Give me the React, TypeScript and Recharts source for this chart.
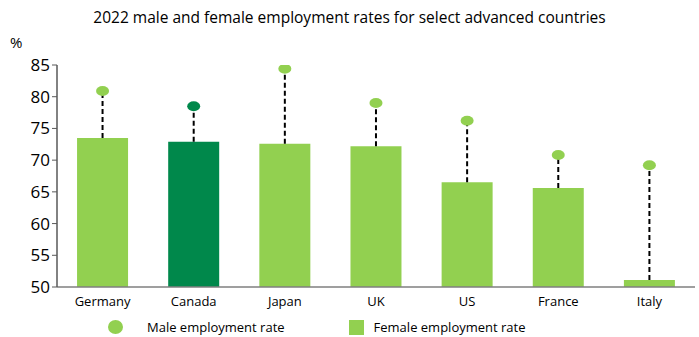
import { ComposedChart, Bar, Cell, XAxis, YAxis } from "recharts";

const countries = ["Germany", "Canada", "Japan", "UK", "US", "France", "Italy"];
const femaleRate = [73.5, 72.9, 72.6, 72.2, 66.5, 65.6, 51.1];
const maleRate = [80.9, 78.5, 84.4, 79.0, 76.2, 70.8, 69.2];
const yTicks = [50, 55, 60, 65, 70, 75, 80, 85];

const LIGHT = "#92d050";
const DARK = "#00884b";
const FONT = "'Open Sans', 'Noto Sans', sans-serif";

const data = countries.map((country, i) => ({
  country,
  female: femaleRate[i],
  male: maleRate[i],
}));

const colorFor = (country: string) => (country === "Canada" ? DARK : LIGHT);

// range bar [female, male]: draws the dashed stem and the male dot on top
const Stem = (props: any) => {
  const { x, y, width, height, payload } = props;
  const cx = x + width / 2;
  return (
    <g>
      <line
        x1={cx}
        x2={cx}
        y1={y + height}
        y2={y}
        stroke="#000"
        strokeWidth={2}
        strokeDasharray="5 3"
      />
      <ellipse cx={cx} cy={y} rx={6.5} ry={5} fill={colorFor(payload.country)} />
    </g>
  );
};

export default function App() {
  return (
    <div style={{ position: "absolute", left: 0, top: 0, width: 699, height: 337, fontFamily: FONT, background: "#fff" }}>
      <div style={{ position: "absolute", top: 6, left: 0, width: 699, textAlign: "center", fontSize: 15.5, color: "#000" }}>
        2022 male and female employment rates for select advanced countries
      </div>
      <div style={{ position: "absolute", top: 32, left: 10, fontSize: 15, color: "#000" }}>%</div>
      <ComposedChart
        width={699}
        height={337}
        data={data}
        margin={{ top: 65, right: 4, left: 0, bottom: 20 }}
        barCategoryGap="22%"
      >
        <XAxis
          dataKey="country"
          height={30}
          tickLine={false}
          axisLine={{ stroke: "#7f7f7f", strokeWidth: 1.5 }}
          tick={{ fill: "#000", fontSize: 13, fontFamily: FONT }}
          interval={0}
          tickMargin={4}
        />
        <XAxis xAxisId="r" dataKey="country" hide />
        <YAxis
          width={57}
          domain={[50, 85]}
          ticks={yTicks}
          allowDataOverflow
          axisLine={{ stroke: "#595959", strokeWidth: 1.5 }}
          tickLine={{ stroke: "#595959" }}
          tickSize={5}
          tick={{ fill: "#000", fontSize: 17, fontFamily: FONT }}
        />
        <Bar dataKey="female" isAnimationActive={false}>
          {data.map((d) => (
            <Cell key={d.country} fill={colorFor(d.country)} />
          ))}
        </Bar>
        <Bar
          xAxisId="r"
          dataKey={(d: any) => [d.female, d.male]}
          isAnimationActive={false}
          shape={Stem}
        />
      </ComposedChart>
      <div style={{ position: "absolute", top: 318, left: 108, display: "flex", alignItems: "center", fontSize: 13, color: "#000" }}>
        <span style={{ display: "inline-block", width: 15, height: 14, borderRadius: "50%", background: LIGHT, marginRight: 24 }} />
        <span>Male employment rate</span>
        <span style={{ display: "inline-block", width: 15, height: 15, background: LIGHT, marginLeft: 64, marginRight: 10 }} />
        <span>Female employment rate</span>
      </div>
    </div>
  );
}
